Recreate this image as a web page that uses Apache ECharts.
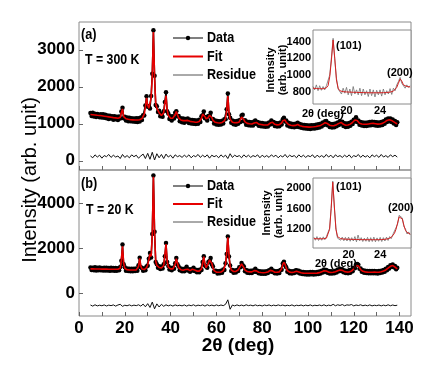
<!DOCTYPE html>
<html>
<head>
<meta charset="utf-8">
<script src="https://cdn.jsdelivr.net/npm/echarts@6/dist/echarts.min.js"></script>
<style>
html,body{margin:0;padding:0;background:#fff}
#chart{width:436px;height:382px}
</style>
</head>
<body>
<div id="chart"></div>
<script>
// main patterns, 2theta from 5.0 deg, step 0.5 deg (10 values per row = 5 deg)
var mainStart = 5, mainStep = 0.5;

// (a) T = 300 K
var fitA = [
  1250,1248,1245,1240,1238,1235,1230,1228,1225,1220,
  1215,1210,1205,1200,1195,1190,1185,1180,1175,1170,
  1165,1160,1158,1155,1150,1150,1170,1300,1400,1190,
  1150,1135,1125,1120,1115,1110,1108,1105,1102,1100,
  1100,1100,1105,1110,1120,1140,1180,1260,1450,1700,
  1500,1420,1450,1700,2300,3480,2250,1550,1420,1360,
  1300,1250,1220,1230,1300,1550,1760,1380,1230,1180,
  1150,1140,1150,1180,1250,1330,1240,1160,1120,1100,
  1090,1085,1080,1085,1100,1090,1070,1065,1060,1055,
  1050,1045,1040,1040,1045,1060,1090,1150,1260,1300,
  1190,1130,1140,1170,1230,1270,1170,1090,1060,1040,
  1030,1025,1020,1020,1025,1035,1050,1080,1150,1350,
  1750,1300,1120,1070,1040,1030,1025,1020,1030,1040,
  1050,1090,1180,1210,1110,1050,1020,1010,1005,1000,
  995,995,1000,1020,1060,1035,1005,990,985,980,
  975,970,968,965,965,970,990,1020,1055,1040,
  1000,985,975,970,970,975,990,1020,1080,1130,
  1100,1040,1000,980,970,960,955,950,950,955,
  965,980,960,945,935,930,925,920,918,915,
  912,910,910,912,915,918,920,925,930,940,
  945,955,970,990,1010,1030,1035,1005,975,960,
  950,945,945,950,960,975,990,1010,1030,1035,
  1010,985,970,960,960,965,975,990,1010,1040,
  1060,1100,1135,1090,1040,1015,1000,995,990,985,
  985,985,990,995,1000,1005,1010,1010,1005,1000,
  995,990,990,995,1000,1010,1025,1045,1070,1090,
  1100,1110,1100,1090,1070,1050,1030,1010,1000,null
];
var dataA = [
  1290,1210,1300,1195,1270,1180,1265,1240,1175,1260,
  1170,1255,1160,1240,1150,1225,1130,1215,1140,1200,
  1110,1205,1120,1190,1100,1195,1140,1330,1430,1150,
  1190,1090,1170,1070,1160,1065,1150,1060,1145,1055,
  1150,1050,1150,1060,1170,1100,1230,1220,1490,1740,
  1460,1470,1410,1750,2350,3530,2300,1510,1470,1320,
  1350,1200,1270,1190,1340,1590,1850,1340,1280,1130,
  1200,1090,1200,1140,1300,1340,1200,1210,1070,1150,
  1040,1140,1030,1130,1060,1140,1020,1110,1010,1100,
  1000,1095,990,1090,1000,1110,1050,1200,1230,1330,
  1150,1180,1090,1210,1200,1300,1130,1130,1010,1085,
  980,1075,970,1070,980,1080,1010,1120,1120,1390,
  1820,1260,1160,1030,1085,985,1070,975,1075,1000,
  1095,1050,1220,1240,1070,1095,975,1055,960,1045,
  950,1040,955,1060,1090,990,1050,945,1030,935,
  1020,925,1010,920,1010,925,1035,980,1090,1000,
  1045,940,1020,925,1015,930,1035,980,1120,1160,
  1060,1085,955,1025,925,1005,910,995,905,1000,
  920,1025,915,990,890,975,880,965,870,960,
  865,955,860,960,870,960,875,970,885,985,
  900,1000,925,1035,965,1070,1075,960,1020,915,
  995,900,990,905,1005,930,1035,965,1075,1000,
  1055,940,1015,915,1005,920,1020,945,1055,995,
  1105,1060,1175,1045,1085,970,1045,950,1035,940,
  1030,940,1035,950,1045,960,1055,965,1050,955,
  1040,945,1035,950,1045,965,1070,1000,1115,1045,
  1145,1065,1145,1045,1115,1005,1075,965,1040,null
];

// (b) T = 20 K
var fitB = [
  1100,1100,1098,1098,1095,1095,1092,1092,1090,1090,
  1088,1088,1086,1086,1085,1085,1083,1083,1082,1082,
  1080,1080,1080,1078,1080,1090,1130,1500,2100,1350,
  1120,1070,1060,1055,1052,1050,1050,1048,1048,1050,
  1055,1070,1200,1570,1220,1090,1070,1070,1090,1150,
  1280,1500,1760,1650,2600,5200,2700,1450,1250,1200,
  1160,1140,1140,1160,1250,1700,2200,1450,1180,1120,
  1100,1090,1100,1150,1300,1550,1350,1150,1090,1060,
  1045,1040,1040,1070,1150,1080,1030,1020,1030,1080,
  1100,1050,1010,1000,995,1000,1020,1100,1350,1640,
  1300,1150,1200,1350,1500,1540,1350,1150,1020,970,
  950,945,945,950,960,980,1020,1100,1300,1800,
  2500,1700,1200,1050,1000,980,975,985,1000,1050,
  1120,1220,1320,1300,1150,1040,1000,980,970,965,
  960,965,980,1020,1050,1010,970,950,940,935,
  930,928,930,935,945,960,990,1030,1050,1010,
  970,950,945,945,950,965,1000,1100,1300,1390,
  1300,1130,1020,975,955,945,940,945,960,980,
  990,985,960,940,925,915,910,905,900,900,
  900,902,905,910,905,900,900,905,910,920,
  930,945,965,990,1015,1020,1000,975,955,945,
  940,940,945,955,970,990,1015,1040,1050,1050,
  1030,1000,975,960,955,955,960,975,1000,1040,
  1100,1180,1250,1275,1230,1150,1070,1020,990,975,
  965,960,955,950,950,950,950,950,955,950,
  945,945,950,960,970,985,1000,1020,1050,1090,
  1130,1170,1210,1240,1245,1220,1180,1130,1100,null
];
var dataB = [
  1160,1050,1150,1040,1170,1030,1150,1040,1155,1035,
  1140,1030,1150,1025,1145,1030,1140,1020,1150,1025,
  1135,1020,1140,1020,1130,1040,1180,1460,2180,1300,
  1170,1010,1110,1000,1105,995,1100,990,1100,1000,
  1110,1020,1260,1590,1170,1140,1010,1120,1040,1200,
  1240,1550,1800,1600,2650,5250,2750,1400,1300,1150,
  1210,1090,1190,1110,1300,1660,2250,1400,1230,1070,
  1150,1040,1150,1100,1350,1580,1300,1200,1040,1110,
  990,1095,990,1120,1190,1030,1080,970,1080,1030,
  1150,1000,1060,950,1045,950,1070,1050,1400,1660,
  1250,1200,1150,1400,1450,1580,1300,1200,970,1020,
  1000,895,995,900,1010,930,1070,1050,1350,1760,
  2540,1650,1250,1000,1050,930,1025,935,1050,1000,
  1170,1170,1360,1260,1200,990,1050,930,1020,915,
  1010,915,1030,970,1100,960,1020,900,990,885,
  980,880,980,885,995,910,1040,980,1100,960,
  1020,900,995,895,1000,915,1050,1060,1340,1420,
  1260,1170,970,1025,905,995,890,995,910,1030,
  1040,935,1010,890,975,865,960,855,950,850,
  950,850,955,860,955,850,950,855,960,870,
  980,895,1015,940,1065,970,1050,925,1005,895,
  990,890,995,905,1020,940,1065,990,1100,1000,
  1080,950,1025,910,1005,905,1010,925,1050,990,
  1150,1130,1300,1310,1280,1100,1120,970,1040,925,
  1015,910,1005,900,1000,900,1000,900,1005,900,
  995,895,1000,910,1020,935,1050,970,1100,1040,
  1180,1120,1260,1190,1295,1170,1230,1080,1150,null
];

// residues, 2theta from 5 deg, step 1 deg
var resStart = 5, resStep = 1;
var resA = [
  130,80,160,100,150,70,140,110,170,90,
  150,100,130,60,170,90,140,80,160,110,
  150,70,130,180,60,200,40,230,20,190,
  80,170,60,180,100,150,70,160,110,140,
  90,150,100,160,80,140,110,170,90,150,
  100,160,70,150,110,140,80,160,100,150,
  60,190,90,150,110,140,80,160,100,150,
  90,140,110,160,80,150,100,140,90,160,
  110,150,80,140,100,170,90,150,110,140,
  80,160,100,150,90,140,110,160,80,150,
  100,140,90,170,100,150,80,160,110,140,
  90,150,100,160,80,140,110,170,90,150,
  100,140,80,160,110,150,90,170,100,140,
  90,160,110,150,100
];
var resB = [
  -510,-560,-500,-550,-520,-545,-505,-555,-515,-540,
  -505,-560,-510,-480,-570,-520,-545,-505,-550,-515,
  -540,-500,-560,-470,-590,-450,-620,-380,-680,-460,
  -600,-480,-570,-500,-550,-510,-560,-505,-545,-520,
  -550,-505,-560,-510,-545,-500,-555,-515,-540,-505,
  -560,-500,-545,-515,-550,-505,-545,-510,-540,-480,
  -280,-700,-510,-550,-505,-545,-515,-550,-500,-540,
  -515,-550,-505,-545,-520,-555,-510,-540,-505,-550,
  -515,-545,-505,-540,-510,-550,-520,-545,-505,-555,
  -520,-540,-510,-550,-515,-545,-505,-550,-520,-540,
  -510,-545,-500,-550,-515,-540,-480,-545,-500,-530,
  -490,-545,-505,-520,-490,-550,-510,-535,-500,-545,
  -515,-545,-505,-550,-520,-540,-510,-550,-515,-545,
  -500,-545,-510,-540,-520
];

// insets, step 0.2 deg
var insetAStart = 16, insetBStart = 15.6, insetStep = 0.2;
var insetFitA = [
  840,838,836,835,834,833,833,835,845,870,
  980,1180,1420,1200,940,840,810,800,798,796,
  795,794,793,792,791,790,790,789,788,788,
  787,787,786,786,785,785,785,785,785,785,
  785,785,786,787,788,790,793,797,805,820,
  850,900,950,925,880,865,860,858,855
];
var insetDataA = [
  860,820,880,810,870,815,860,820,870,850,
  1000,1210,1440,1180,960,830,850,770,840,780,
  850,760,830,750,860,770,820,760,840,750,
  830,760,810,740,830,750,820,735,815,760,
  820,745,830,760,810,770,835,765,840,810,
  880,920,970,900,900,840,880,850,870
];
var insetFitB = [
  1020,1020,1018,1018,1017,1017,1018,1020,1030,1060,
  1200,1600,2110,1650,1200,1060,1030,1020,1015,1012,
  1010,1010,1008,1008,1006,1005,1005,1004,1003,1002,
  1002,1001,1000,1000,1000,1000,1000,1000,1000,1000,
  1000,1001,1002,1003,1005,1008,1012,1018,1028,1045,
  1075,1120,1200,1320,1440,1470,1400,1280,1180,1140,
  1120,1110
];
var insetDataB = [
  1050,990,1060,985,1045,990,1055,1000,1060,1040,
  1220,1620,2130,1620,1230,1030,1060,990,1050,980,
  1045,975,1050,970,1040,975,1060,960,1090,980,
  1040,965,1030,970,1045,960,1040,965,1050,960,
  1035,970,1045,965,1040,975,1050,985,1060,1020,
  1100,1090,1230,1300,1470,1450,1420,1250,1210,1110,
  1150,1090
];

// tick labels
var mainXTicks = [0,10,20,30,40,50,60,70,80,90,100,110,120,130,140];
var mainXLabels = [0,20,40,60,80,100,120,140];
var yLabelsA = [0,1000,2000,3000];
var yLabelsB = [0,2000,4000];
var insetXLabels = [20,24];
var insetYLabelsA = [800,1000,1200,1400];
var insetYLabelsB = [1200,1600,2000];
var legendNames = ['Data', 'Fit', 'Residue'];

function pts(start, step, vals) {
  var out = [];
  for (var i = 0; i < vals.length; i++) {
    if (vals[i] == null) continue;
    out.push([+(start + i * step).toFixed(2), vals[i]]);
  }
  return out;
}
function plain(v) { return String(v); }

var FONT = '"Liberation Sans", Arial, sans-serif';
var frame = '#8a8a8a';
var RED = '#e60000';

function mainX(grid, showLabels) {
  return {
    type: 'value', gridIndex: grid, min: 0, max: 145,
    axisLine: {show: false, onZero: false}, splitLine: {show: false},
    axisTick: {show: true, inside: true, length: 4, customValues: mainXTicks, lineStyle: {color: '#666'}},
    axisLabel: {show: showLabels, customValues: mainXLabels, margin: 4, formatter: plain,
      fontFamily: FONT, fontSize: 17, fontWeight: 'bold', color: '#000'}
  };
}
function mainY(grid, min, max, labels) {
  return {
    type: 'value', gridIndex: grid, min: min, max: max,
    axisLine: {show: false, onZero: false}, splitLine: {show: false},
    axisTick: {show: true, inside: true, length: 4, customValues: labels, lineStyle: {color: '#666'}},
    axisLabel: {customValues: labels, margin: 4, formatter: plain,
      fontFamily: FONT, fontSize: 17, fontWeight: 'bold', color: '#000'}
  };
}
function insetX(grid, min, max) {
  return {
    type: 'value', gridIndex: grid, min: min, max: max,
    axisLine: {show: false, onZero: false}, splitLine: {show: false},
    axisTick: {show: false},
    axisLabel: {customValues: insetXLabels, margin: 1, formatter: plain,
      fontFamily: FONT, fontSize: 11, fontWeight: 'bold', color: '#000'}
  };
}
function insetY(grid, min, max, labels) {
  return {
    type: 'value', gridIndex: grid, min: min, max: max,
    axisLine: {show: false, onZero: false}, splitLine: {show: false},
    axisTick: {show: false},
    axisLabel: {customValues: labels, margin: 2, formatter: plain,
      fontFamily: FONT, fontSize: 11, fontWeight: 'bold', color: '#000'}
  };
}

function dataSeries(ax, vals) {
  return {
    name: 'Data', type: 'line', xAxisIndex: ax, yAxisIndex: ax,
    data: pts(mainStart, mainStep, vals),
    symbol: 'circle', symbolSize: 4.5, showSymbol: true, showAllSymbol: true,
    lineStyle: {color: '#000', width: 1.5}, itemStyle: {color: '#000'}, z: 2
  };
}
function fitSeries(ax, vals) {
  return {
    name: 'Fit', type: 'line', xAxisIndex: ax, yAxisIndex: ax,
    data: pts(mainStart, mainStep, vals), showSymbol: false, symbol: 'none',
    lineStyle: {color: RED, width: 1.6}, z: 3
  };
}
function resSeries(ax, vals) {
  return {
    name: 'Residue', type: 'line', xAxisIndex: ax, yAxisIndex: ax,
    data: pts(resStart, resStep, vals), showSymbol: false, symbol: 'none',
    lineStyle: {color: '#111', width: 1}, z: 2
  };
}
function insetSeries(ax, start, vals, isFit) {
  return {
    name: isFit ? 'inset fit' : 'inset data', type: 'line', xAxisIndex: ax, yAxisIndex: ax,
    data: pts(start, insetStep, vals), showSymbol: false, symbol: 'none', silent: true,
    lineStyle: {color: isFit ? '#d42020' : '#707070', width: isFit ? 1 : 0.8}, z: isFit ? 3 : 2
  };
}

function txt(x, y, s, size, opts) {
  opts = opts || {};
  return {
    type: 'text', x: x, y: y, rotation: opts.rot || 0, scaleX: opts.sx || 1, z: 50,
    style: {text: s, fill: '#000', font: (opts.weight || 'bold') + ' ' + size + 'px ' + FONT,
      textAlign: opts.align || 'left', textVerticalAlign: 'middle', lineHeight: opts.lh || size}
  };
}

// legend drawn by hand: line + marker + label
function legendBlock(y0, gap) {
  var strokes = [{c: '#000', w: 1, dot: true}, {c: RED, w: 2}, {c: '#555', w: 1}];
  var els = [];
  legendNames.forEach(function (n, i) {
    var y = y0 + i * gap;
    els.push({type: 'line', z: 50, shape: {x1: 173, y1: y, x2: 203, y2: y},
      style: {stroke: strokes[i].c, lineWidth: strokes[i].w}});
    if (strokes[i].dot) {
      els.push({type: 'circle', z: 51, shape: {cx: 188, cy: y, r: 2.2}, style: {fill: '#000'}});
    }
    els.push(txt(207, y, n, 15, {sx: 0.84}));
  });
  return els;
}

var chart = echarts.init(document.getElementById('chart'));
var option = {
  animation: false,
  backgroundColor: '#fff',
  grid: [
    {left: 79, top: 22, width: 332, height: 148, show: true, borderColor: frame, borderWidth: 1},
    {left: 79, top: 170, width: 332, height: 146, show: true, borderColor: frame, borderWidth: 1},
    {left: 313, top: 30, width: 98, height: 74, show: true, borderColor: frame, borderWidth: 1, backgroundColor: '#fff'},
    {left: 313, top: 178, width: 98, height: 70, show: true, borderColor: frame, borderWidth: 1, backgroundColor: '#fff'}
  ],
  xAxis: [
    mainX(0, false),
    mainX(1, true),
    insetX(2, 16, 27.7),
    insetX(3, 15.5, 27.9)
  ],
  yAxis: [
    mainY(0, -250, 3750, yLabelsA),
    mainY(1, -1000, 5500, yLabelsB),
    insetY(2, 650, 1540, insetYLabelsA),
    insetY(3, 840, 2190, insetYLabelsB)
  ],
  series: [
    dataSeries(0, dataA), fitSeries(0, fitA), resSeries(0, resA),
    dataSeries(1, dataB), fitSeries(1, fitB), resSeries(1, resB),
    insetSeries(2, insetAStart, insetDataA, false), insetSeries(2, insetAStart, insetFitA, true),
    insetSeries(3, insetBStart, insetDataB, false), insetSeries(3, insetBStart, insetFitB, true)
  ],
  graphic: [
    txt(81, 35, '(a)', 15, {sx: 0.85}),
    txt(85, 60, 'T = 300 K', 14, {sx: 0.88}),
    txt(81, 184, '(b)', 15, {sx: 0.85}),
    txt(86, 210, 'T = 20 K', 14, {sx: 0.88}),
    txt(30, 180, 'Intensity (arb. unit)', 20, {rot: Math.PI / 2, align: 'center', weight: 'normal'}),
    txt(238, 346, '2\u03b8 (deg)', 19, {align: 'center'}),
    txt(277, 70, 'Intensity\n(arb. unit)', 11, {rot: Math.PI / 2, align: 'center', lh: 12}),
    txt(273, 213, 'Intensity\n(arb. unit)', 11, {rot: Math.PI / 2, align: 'center', lh: 12}),
    txt(336, 46, '(101)', 11),
    txt(387, 73, '(200)', 11),
    txt(336, 187, '(101)', 11),
    txt(388, 208, '(200)', 11),
    txt(323, 114, '2\u03b8 (deg)', 11, {align: 'center'}),
    txt(336, 264, '2\u03b8 (deg)', 11, {align: 'center'})
  ].concat(legendBlock(38, 18.5), legendBlock(186, 18))
};
chart.setOption(option);
</script>
</body>
</html>
